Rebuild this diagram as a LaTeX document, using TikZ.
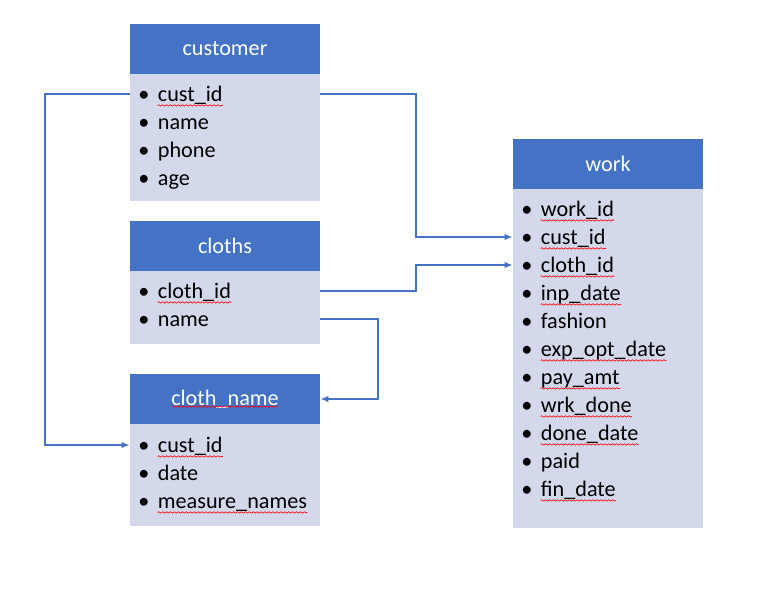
\documentclass[tikz,border=0pt]{standalone}
\usepackage{fontspec}
\setmainfont{Carlito}
\usetikzlibrary{arrows.meta, decorations.pathmorphing}

\definecolor{headblue}{HTML}{4472C4}
\definecolor{bodygrey}{HTML}{D3D8EA}

\tikzset{>={Latex[length=2mm,width=1.6mm]},
                 head/.style={fill=headblue, text=white, minimum width=4.75cm, minimum height=1.25cm, inner sep=0, font=\fontsize{15.8}{18}\selectfont},
                 body/.style={fill=bodygrey, minimum width=4.75cm, inner sep=0},
                 item/.style={anchor=west, inner sep=0, text height=0.5cm, text depth=0.125cm, font=\fontsize{15.8}{18}\selectfont,
                              execute at begin node={\makebox[0.49cm][l]{\textbullet}}},
                 link/.style={draw=headblue, line width=1.25pt},
                 spell/.style={draw=red, line width=0.45pt, decorate, decoration={snake, amplitude=0.5pt, segment length=2.8pt}}}

\begin{document}
\begin{tikzpicture}
            \useasboundingbox (0, 0) rectangle (19.25, 15.025);

            % tables
            \node[head] at ( 5.625, 13.8   ) (customer)      {customer};
            \node[body, minimum height=3.175cm] at ( 5.625, 11.5875) (customer-body) {};
            \node[head] at ( 5.625,  8.8875) (cloths)        {cloths};
            \node[body, minimum height=1.825cm] at ( 5.625,  7.3375) (cloths-body)   {};
            \node[head] at ( 5.625,  5.05  ) (clothname)     {cloth\_name};
            \node[body, minimum height=2.55cm]  at ( 5.625,  3.15  ) (clothname-body) {};
            \node[head] at (15.2,   10.9375) (work)          {work};
            \node[body, minimum height=8.475cm] at (15.2,    6.0625) (work-body)     {};

            % fields
            \node[item] at ( 3.45, 12.675) (cust-id)    {cust\_id};
            \node[item] at ( 3.45, 11.975) (cust-name)  {name};
            \node[item] at ( 3.45, 11.275) (cust-phone) {phone};
            \node[item] at ( 3.45, 10.575) (cust-age)   {age};

            \node[item] at ( 3.45,  7.75) (cloth-id)   {cloth\_id};
            \node[item] at ( 3.45,  7.05) (cloth-name) {name};

            \node[item] at ( 3.45,  3.9) (cn-custid)  {cust\_id};
            \node[item] at ( 3.45,  3.2) (cn-date)    {date};
            \node[item] at ( 3.45,  2.5) (cn-measure) {measure\_names};

            \node[item] at (13.025, 9.8) (w-workid)   {work\_id};
            \node[item] at (13.025, 9.1) (w-custid)   {cust\_id};
            \node[item] at (13.025, 8.4) (w-clothid)  {cloth\_id};
            \node[item] at (13.025, 7.7) (w-inpdate)  {inp\_date};
            \node[item] at (13.025, 7.0) (w-fashion)  {fashion};
            \node[item] at (13.025, 6.3) (w-expdate)  {exp\_opt\_date};
            \node[item] at (13.025, 5.6) (w-payamt)   {pay\_amt};
            \node[item] at (13.025, 4.9) (w-wrkdone)  {wrk\_done};
            \node[item] at (13.025, 4.2) (w-donedate) {done\_date};
            \node[item] at (13.025, 3.5) (w-paid)     {paid};
            \node[item] at (13.025, 2.8) (w-findate)  {fin\_date};

            % spell check marks
            \foreach \n in {cust-id, cloth-id, cn-custid, cn-measure, w-workid, w-custid, w-clothid,
                            w-inpdate, w-expdate, w-payamt, w-wrkdone, w-donedate, w-findate}
                \draw[spell] ([xshift=0.49cm, yshift=-2.8pt]\n.base west) -- ([yshift=-2.8pt]\n.base east);
            \draw[spell] ([xshift=-1.33cm, yshift=-0.19cm]clothname.center) -- ([xshift=1.33cm, yshift=-0.19cm]clothname.center);

            % links
            \draw[link, ->]
                   (customer-body.east |- cust-id.west)
                -- ++( 2.4,  0.0)
                |- (work-body.west |- w-custid.west);

            \draw[link, ->]
                   (cloths-body.east |- cloth-id.west)
                -- ++( 2.4,  0.0)
                |- (work-body.west |- w-clothid.west);

            \draw[link, ->]
                   (cloths-body.east |- cloth-name.west)
                -- ++( 1.45, 0.0)
                |- (clothname.east);

            \draw[link, ->]
                   (customer-body.west |- cust-id.west)
                -- ++(-2.125, 0.0)
                |- (clothname-body.west |- cn-custid.west);
        \end{tikzpicture}
\end{document}
